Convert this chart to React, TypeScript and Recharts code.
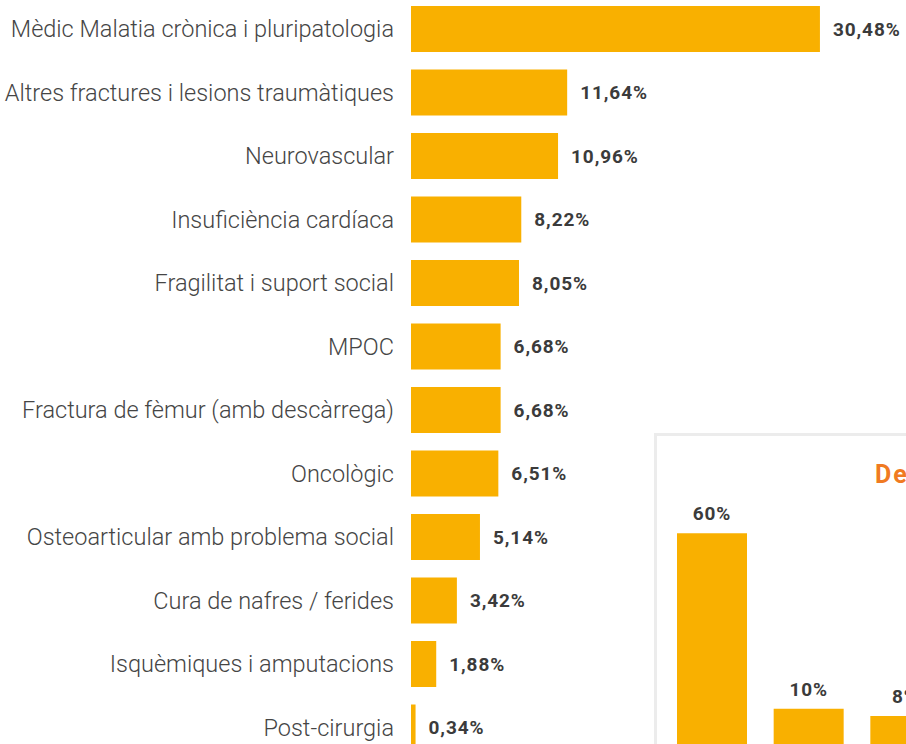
import { BarChart, Bar, XAxis, YAxis, LabelList } from 'recharts';

const categories = [
  'Mèdic Malatia crònica i pluripatologia',
  'Altres fractures i lesions traumàtiques',
  'Neurovascular',
  'Insuficiència cardíaca',
  'Fragilitat i suport social',
  'MPOC',
  'Fractura de fèmur (amb descàrrega)',
  'Oncològic',
  'Osteoarticular amb problema social',
  'Cura de nafres / ferides',
  'Isquèmiques i amputacions',
  'Post-cirurgia',
];
const percents = [30.48, 11.64, 10.96, 8.22, 8.05, 6.68, 6.68, 6.51, 5.14, 3.42, 1.88, 0.34];

// inset chart (mostly cut off in the picture)
const insetTitle = "Destinació a l'alta";
const insetCategories = ['Domicili', 'Sociosanitari', 'Residència'];
const insetPercents = [60, 10, 8];

const BAR = '#F9B000';
const LABEL = '#3b3b3b';

const data = categories.map((name, i) => ({ name, value: percents[i] }));
const insetData = insetCategories.map((name, i) => ({ name, value: insetPercents[i] }));

const fmtPct = (v: any) => Number(v).toFixed(2).replace('.', ',') + '%';

export default function App() {
  return (
    <div
      style={{
        position: 'absolute',
        left: 0,
        top: 0,
        width: 906,
        height: 744,
        overflow: 'hidden',
        background: '#fff',
        fontFamily: 'Roboto, sans-serif',
      }}
    >
      <div style={{ position: 'absolute', left: 0, top: -3 }}>
        <BarChart
          layout="vertical"
          width={906}
          height={762}
          data={data}
          margin={{ top: 0, right: 12, bottom: 0, left: 0 }}
          barSize={46}
        >
          <XAxis type="number" domain={[0, 36]} hide />
          <YAxis
            type="category"
            dataKey="name"
            width={411}
            axisLine={false}
            tickLine={false}
            tickSize={0}
            tickMargin={17}
            tick={{ fill: '#454545', fontSize: 23.5, fontWeight: 300 }}
            interval={0}
          />
          <Bar dataKey="value" fill={BAR} isAnimationActive={false}>
            <LabelList
              dataKey="value"
              position="right"
              offset={13}
              formatter={fmtPct}
              style={{ fill: LABEL, fontSize: 19, fontWeight: 700, letterSpacing: 0.9 }}
            />
          </Bar>
        </BarChart>
      </div>

      <div
        style={{
          position: 'absolute',
          left: 654,
          top: 433,
          width: 400,
          height: 400,
          border: '3px solid #ececec',
          background: '#fff',
        }}
      >
        <div
          style={{
            position: 'absolute',
            left: 218,
            top: 26,
            color: '#F07A22',
            fontSize: 25,
            fontWeight: 700,
            letterSpacing: 2,
            whiteSpace: 'nowrap',
            lineHeight: 1,
          }}
        >
          {insetTitle}
        </div>
        <div style={{ position: 'absolute', left: 0, top: 0 }}>
          <BarChart
            width={300}
            height={328}
            data={insetData}
            margin={{ top: 62, right: 3, bottom: 20, left: 7 }}
            barSize={70}
          >
            <XAxis dataKey="name" hide />
            <YAxis type="number" domain={[0, 70]} hide />
            <Bar dataKey="value" fill={BAR} isAnimationActive={false}>
              <LabelList
                dataKey="value"
                position="top"
                offset={13}
                formatter={(v: any) => v + '%'}
                style={{ fill: LABEL, fontSize: 19, fontWeight: 700, letterSpacing: 0.9 }}
              />
            </Bar>
          </BarChart>
        </div>
      </div>
    </div>
  );
}
